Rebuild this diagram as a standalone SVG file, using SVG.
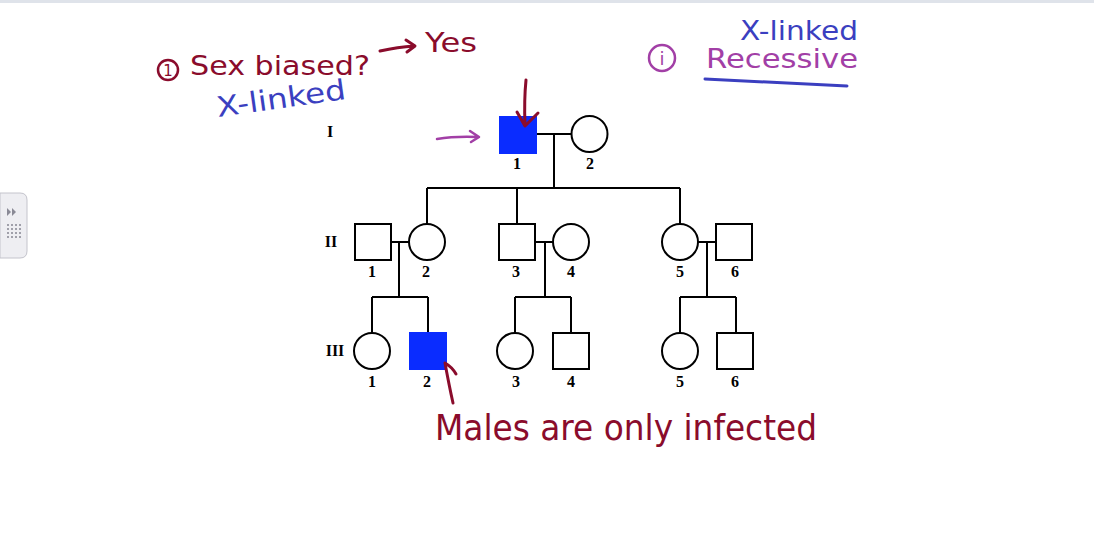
<svg xmlns="http://www.w3.org/2000/svg" width="1094" height="548" viewBox="0 0 1094 548">
<style>
.sym{fill:#fff;stroke:#000;stroke-width:2}
.aff{fill:#0a2cff;stroke:#0a2cff;stroke-width:2}
.ln{fill:none;stroke:#000;stroke-width:2}
.num{font-family:"Liberation Serif",serif;font-weight:bold;font-size:16px;fill:#000;text-anchor:middle}
.gen{font-family:"Liberation Serif",serif;font-weight:bold;font-size:16px;fill:#000;text-anchor:middle}
.hw{font-family:"DejaVu Sans",sans-serif;}
.red{fill:#8a0c2c}
.blue{fill:#3b3fc0}
.pur{fill:#a23fa6}
.pen{fill:none;stroke-linecap:round;stroke-linejoin:round}
</style>
<rect width="1094" height="548" fill="#fff"/>
<line x1="0" y1="1.5" x2="1094" y2="1.5" stroke="#dfe3ea" stroke-width="3"/>
<g id="side-tab">
<path d="M0 193 H20 Q27 193 27 200 V251 Q27 258 20 258 H0 Z" fill="#eeeef2" stroke="#c4c4cc" stroke-width="1"/>
<path d="M7 208 L11 212 L7 216 Z M12 208 L16 212 L12 216 Z" fill="#8a8a96"/>
<g fill="#a0a0aa">
<rect x="7" y="224" width="2" height="2"/><rect x="11" y="224" width="2" height="2"/><rect x="15" y="224" width="2" height="2"/><rect x="19" y="224" width="2" height="2"/>
<rect x="7" y="228" width="2" height="2"/><rect x="11" y="228" width="2" height="2"/><rect x="15" y="228" width="2" height="2"/><rect x="19" y="228" width="2" height="2"/>
<rect x="7" y="232" width="2" height="2"/><rect x="11" y="232" width="2" height="2"/><rect x="15" y="232" width="2" height="2"/><rect x="19" y="232" width="2" height="2"/>
<rect x="7" y="236" width="2" height="2"/><rect x="11" y="236" width="2" height="2"/><rect x="15" y="236" width="2" height="2"/><rect x="19" y="236" width="2" height="2"/>
</g>
</g>
<g id="generation-labels">
<text class="gen" x="330" y="137">I</text>
<text class="gen" x="331" y="247">II</text>
<text class="gen" x="335" y="356">III</text>
</g>
<g id="connectors">
<path class="ln" d="M536 134 H571 M554 134 V188 M427 188 H680 M427 188 V223 M517 188 V223 M680 188 V223"/>
<path class="ln" d="M391 242 H409 M399 242 V297 M372 297 H428 M372 297 V332 M428 297 V332"/>
<path class="ln" d="M535 242 H553 M545 242 V297 M515 297 H571 M515 297 V332 M571 297 V332"/>
<path class="ln" d="M698 242 H716 M707 242 V297 M680 297 H736 M680 297 V332 M736 297 V332"/>
</g>
<g id="I-1"><rect class="aff" x="500" y="117" width="36" height="36"/><text class="num" x="517" y="169">1</text></g>
<g id="I-2"><circle class="sym" cx="589.5" cy="134" r="18"/><text class="num" x="590" y="169">2</text></g>
<g id="II-1"><rect class="sym" x="355" y="224" width="36" height="36"/><text class="num" x="372" y="277">1</text></g>
<g id="II-2"><circle class="sym" cx="427" cy="242" r="18"/><text class="num" x="426" y="277">2</text></g>
<g id="II-3"><rect class="sym" x="499" y="224" width="36" height="36"/><text class="num" x="516" y="277">3</text></g>
<g id="II-4"><circle class="sym" cx="571" cy="242" r="18"/><text class="num" x="571" y="277">4</text></g>
<g id="II-5"><circle class="sym" cx="680" cy="242" r="18"/><text class="num" x="680" y="277">5</text></g>
<g id="II-6"><rect class="sym" x="716" y="224" width="36" height="36"/><text class="num" x="735" y="277">6</text></g>
<g id="III-1"><circle class="sym" cx="372" cy="351" r="18"/><text class="num" x="372" y="387">1</text></g>
<g id="III-2"><rect class="aff" x="410" y="333" width="36" height="36"/><text class="num" x="427" y="387">2</text></g>
<g id="III-3"><circle class="sym" cx="515" cy="351" r="18"/><text class="num" x="516" y="387">3</text></g>
<g id="III-4"><rect class="sym" x="553" y="333" width="36" height="36"/><text class="num" x="571" y="387">4</text></g>
<g id="III-5"><circle class="sym" cx="680" cy="351" r="18"/><text class="num" x="680" y="387">5</text></g>
<g id="III-6"><rect class="sym" x="717" y="333" width="36" height="36"/><text class="num" x="735" y="387">6</text></g>
<g id="annotations">
<circle cx="168" cy="70" r="10" fill="none" stroke="#8a0c2c" stroke-width="2.5"/>
<text class="hw red" x="168" y="76" font-size="15" text-anchor="middle">1</text>
<text class="hw red" x="190" y="75" font-size="27" textLength="180" lengthAdjust="spacingAndGlyphs">Sex biased?</text>
<path class="pen" stroke="#8a0c2c" stroke-width="3" d="M380 51 Q398 47 414 46 M406 40 L415 46 L407 52"/>
<text class="hw red" x="425" y="52" font-size="27" textLength="52" lengthAdjust="spacingAndGlyphs">Yes</text>
<text class="hw blue" x="218" y="117" font-size="28" textLength="130" lengthAdjust="spacingAndGlyphs" transform="rotate(-8 218 117)">X-linked</text>
<text class="hw blue" x="740" y="40" font-size="26" textLength="118" lengthAdjust="spacingAndGlyphs">X-linked</text>
<circle cx="662" cy="58" r="13" fill="none" stroke="#a23fa6" stroke-width="2.5"/>
<text class="hw pur" x="662" y="65" font-size="18" text-anchor="middle">i</text>
<text class="hw pur" x="706" y="68" font-size="26" textLength="152" lengthAdjust="spacingAndGlyphs">Recessive</text>
<path class="pen" stroke="#3b3fc0" stroke-width="3" d="M705 79 Q770 82 847 86"/>
<path class="pen" stroke="#a23fa6" stroke-width="2.5" d="M437 139 Q455 136 478 137 M470 131 L479 137 L471 142"/>
<path class="pen" stroke="#8a0c2c" stroke-width="3" d="M526 80 Q524 100 525 125 M517 112 L525 126 L538 113"/>
<path class="pen" stroke="#8a0c2c" stroke-width="3" d="M453 403 Q449 385 445 363 Q452 367 456 374"/>
<text class="hw red" x="435" y="440" font-size="36" textLength="382" lengthAdjust="spacingAndGlyphs">Males are only infected</text>
</g>
</svg>
